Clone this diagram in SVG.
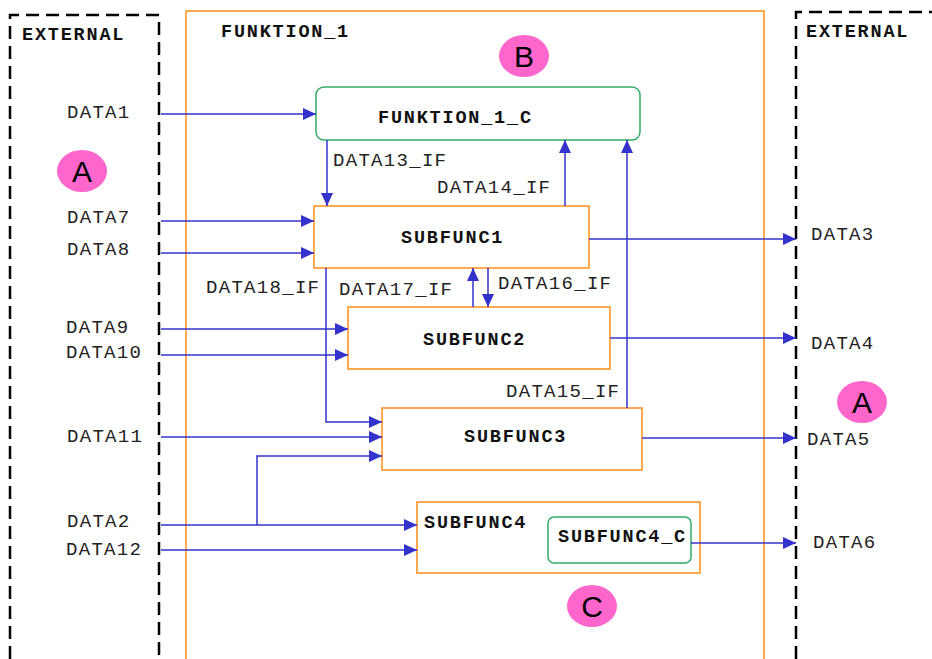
<svg xmlns="http://www.w3.org/2000/svg" width="932" height="659" viewBox="0 0 932 659">
<defs>
<marker id="arr" markerUnits="userSpaceOnUse" markerWidth="14" markerHeight="14" refX="13" refY="7" orient="auto">
<path d="M0,1 L13,7 L0,13 Z" fill="#3333cc"/>
</marker>
<style>
.t{font-family:"Liberation Mono","Courier New",monospace;font-size:19px;letter-spacing:1.3px;fill:#222}
.b{font-family:"Liberation Mono","Courier New",monospace;font-size:18.5px;letter-spacing:1.8px;font-weight:bold;fill:#111}
.dash{fill:none;stroke:#000;stroke-width:2.5;stroke-dasharray:13 7}
.org{fill:#fff;stroke:#ff8c1a;stroke-width:1.5}
.grn{fill:#fff;stroke:#33aa66;stroke-width:1.5}
.pink{fill:#ff66cc}
.lt{font-family:"Liberation Sans",Arial,sans-serif;font-size:30px;fill:#000;text-anchor:middle}
.c{fill:none;stroke:#3333cc;stroke-width:1.5;marker-end:url(#arr)}
</style>
</defs>
<rect width="932" height="659" fill="#fff"/>

<g id="external-left">
<path class="dash" d="M10,659 L10,15 L159,15 L159,659"/>
<text class="b" x="22" y="40">EXTERNAL</text>
</g>
<g id="external-right">
<path class="dash" d="M796,659 L796,12 L932,12"/>
<text class="b" x="806" y="37">EXTERNAL</text>
</g>
<g id="funktion1">
<path class="org" d="M186,659 L186,11 L764,11 L764,659" fill="none"/>
<text class="b" x="221" y="37">FUNKTION_1</text>
</g>

<g id="funktion1c">
<rect class="grn" x="316" y="87" width="324" height="53" rx="8"/>
<text class="b" x="378" y="123">FUNKTION_1_C</text>
</g>
<g id="subfunc1">
<rect class="org" x="314" y="206" width="275" height="62"/>
<text class="b" x="401" y="243">SUBFUNC1</text>
</g>
<g id="subfunc2">
<rect class="org" x="348" y="307" width="262" height="62"/>
<text class="b" x="423" y="345">SUBFUNC2</text>
</g>
<g id="subfunc3">
<rect class="org" x="382" y="408" width="260" height="62"/>
<text class="b" x="464" y="442">SUBFUNC3</text>
</g>
<g id="subfunc4">
<rect class="org" x="417" y="502" width="283" height="71"/>
<text class="b" x="424" y="528">SUBFUNC4</text>
</g>
<g id="subfunc4c">
<rect class="grn" x="548" y="517" width="143" height="46" rx="6"/>
<text class="b" x="558" y="542">SUBFUNC4_C</text>
</g>

<g id="markerA1">
<ellipse class="pink" cx="82" cy="171" rx="25" ry="21"/>
<text class="lt" x="82" y="182">A</text>
</g>
<g id="markerA2">
<ellipse class="pink" cx="862" cy="402" rx="25" ry="21"/>
<text class="lt" x="862" y="413">A</text>
</g>
<g id="markerB">
<ellipse class="pink" cx="524" cy="56" rx="25" ry="21"/>
<text class="lt" x="524" y="67">B</text>
</g>
<g id="markerC">
<ellipse class="pink" cx="592" cy="606" rx="25" ry="21"/>
<text class="lt" x="592" y="617">C</text>
</g>

<g id="connectors">
<path class="c" d="M161,114 L316,114"/>
<path class="c" d="M327,140 L327,206"/>
<path class="c" d="M565,206 L565,140"/>
<path class="c" d="M627,408 L627,140"/>
<path class="c" d="M161,221 L314,221"/>
<path class="c" d="M161,253 L314,253"/>
<path class="c" d="M589,239 L796,239"/>
<path class="c" d="M473,307 L473,268"/>
<path class="c" d="M488,268 L488,307"/>
<path class="c" d="M326,268 L326,422 L382,422"/>
<path class="c" d="M161,329 L348,329"/>
<path class="c" d="M161,355 L348,355"/>
<path class="c" d="M610,338 L796,338"/>
<path class="c" d="M161,437 L382,437"/>
<path class="c" d="M642,438 L796,438"/>
<path class="c" d="M161,525 L417,525"/>
<path class="c" d="M257,525 L257,456 L382,456"/>
<path class="c" d="M161,550 L417,550"/>
<path class="c" d="M691,543 L796,543"/>
</g>

<g id="labels">
<text class="t" x="67" y="118">DATA1</text>
<text class="t" x="67" y="223">DATA7</text>
<text class="t" x="67" y="255">DATA8</text>
<text class="t" x="66" y="333">DATA9</text>
<text class="t" x="66" y="358">DATA10</text>
<text class="t" x="67" y="442">DATA11</text>
<text class="t" x="67" y="527">DATA2</text>
<text class="t" x="66" y="555">DATA12</text>
<text class="t" x="333" y="166">DATA13_IF</text>
<text class="t" x="437" y="193">DATA14_IF</text>
<text class="t" x="206" y="293">DATA18_IF</text>
<text class="t" x="339" y="295">DATA17_IF</text>
<text class="t" x="498" y="289">DATA16_IF</text>
<text class="t" x="506" y="397">DATA15_IF</text>
<text class="t" x="811" y="240">DATA3</text>
<text class="t" x="811" y="349">DATA4</text>
<text class="t" x="807" y="445">DATA5</text>
<text class="t" x="813" y="548">DATA6</text>
</g>
</svg>
